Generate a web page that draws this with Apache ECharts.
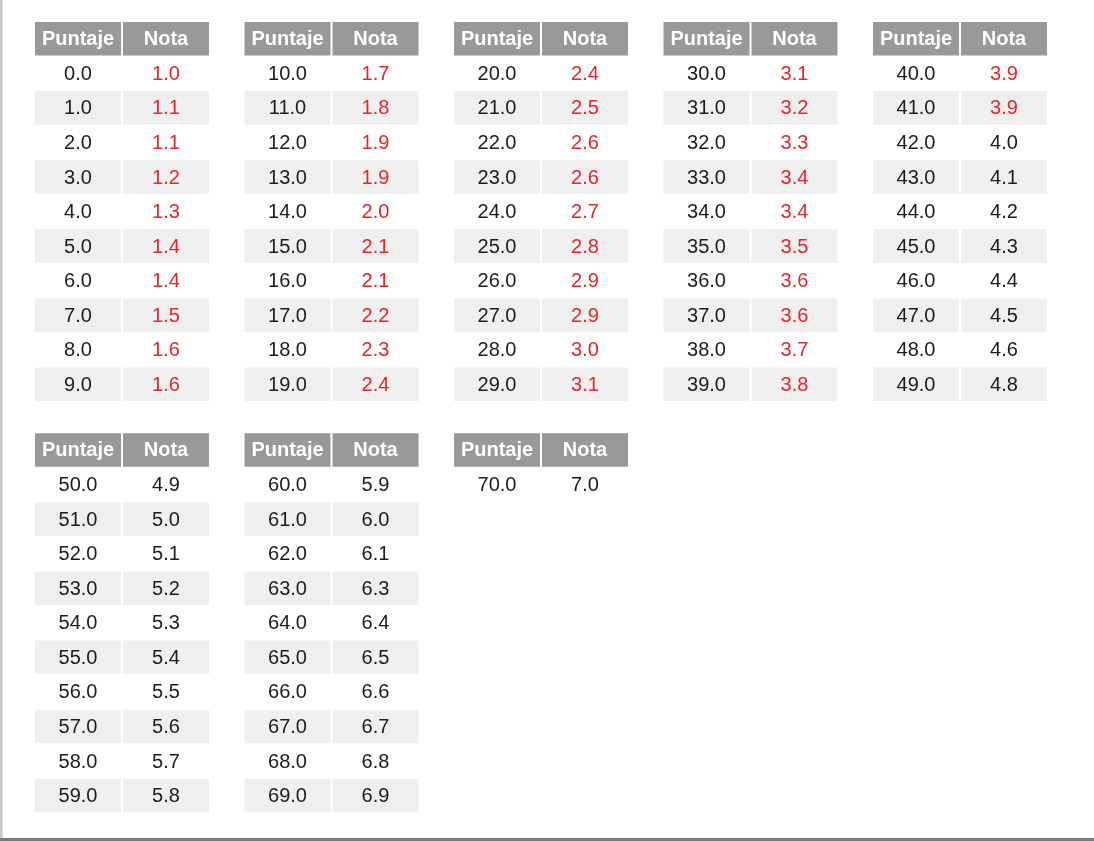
<!DOCTYPE html>
<html>
<head>
<meta charset="utf-8">
<script src="https://cdn.jsdelivr.net/npm/echarts@6/dist/echarts.min.js"></script>
<style>
html,body{margin:0;padding:0;background:#fff;}
#chart{width:1094px;height:841px;}
</style>
</head>
<body>
<div id="chart"></div>
<script>
const headers = ['Puntaje', 'Nota'];
const puntaje = [0,1,2,3,4,5,6,7,8,9,10,11,12,13,14,15,16,17,18,19,20,21,22,23,24,25,26,27,28,29,30,31,32,33,34,35,36,37,38,39,40,41,42,43,44,45,46,47,48,49,50,51,52,53,54,55,56,57,58,59,60,61,62,63,64,65,66,67,68,69,70];
const nota = [
  1.0,1.1,1.1,1.2,1.3,1.4,1.4,1.5,1.6,1.6,
  1.7,1.8,1.9,1.9,2.0,2.1,2.1,2.2,2.3,2.4,
  2.4,2.5,2.6,2.6,2.7,2.8,2.9,2.9,3.0,3.1,
  3.1,3.2,3.3,3.4,3.4,3.5,3.6,3.6,3.7,3.8,
  3.9,3.9,4.0,4.1,4.2,4.3,4.4,4.5,4.6,4.8,
  4.9,5.0,5.1,5.2,5.3,5.4,5.5,5.6,5.7,5.8,
  5.9,6.0,6.1,6.3,6.4,6.5,6.6,6.7,6.8,6.9,
  7.0
];
const failThreshold = 4.0;
const rowsPerTable = 10;
const rowLabels = ['h','0','1','2','3','4','5','6','7','8','9'];

const FONT = "'Liberation Sans', Arial, Helvetica, sans-serif";
const tableCount = Math.ceil(puntaje.length / rowsPerTable);

const grids = [], xAxes = [], yAxes = [], series = [];
const rowH = 34.56;
for (let t = 0; t < tableCount; t++) {
  const col = t % 5, blk = Math.floor(t / 5);
  grids.push({
    left: 34 + 209.5 * col,
    top: blk === 0 ? 21.5 : 432.7,
    width: 176,
    height: rowH * 11
  });
  xAxes.push({type: 'category', data: headers, gridIndex: t, show: false});
  yAxes.push({type: 'category', data: rowLabels, gridIndex: t, inverse: true, show: false});
  const start = t * rowsPerTable;
  const end = Math.min(start + rowsPerTable, puntaje.length);
  const data = [[0, 0, -1], [1, 0, -1]];
  for (let i = start; i < end; i++) {
    data.push([0, i - start + 1, i]);
    data.push([1, i - start + 1, i]);
  }
  series.push({
    type: 'custom',
    xAxisIndex: t,
    yAxisIndex: t,
    data: data,
    silent: true,
    renderItem: function (params, api) {
      const cx = api.value(0), cy = api.value(1), idx = api.value(2);
      const c = api.coord([cx, cy]);
      const s = api.size([1, 1]);
      const children = [];
      let fill = null, text, color = '#1c1c1c', weight = 'normal';
      if (cy === 0) {
        fill = '#999999';
        text = headers[cx];
        color = '#ffffff';
        weight = 'bold';
      } else {
        if ((cy - 1) % 2 === 1) fill = '#efefef';
        if (cx === 0) {
          text = puntaje[idx].toFixed(1);
        } else {
          text = nota[idx].toFixed(1);
          if (nota[idx] < failThreshold) color = '#e4262b';
        }
      }
      if (fill) {
        children.push({
          type: 'rect',
          shape: {x: c[0] - s[0] / 2 + 1, y: c[1] - s[1] / 2 + 0.5, width: s[0] - 2, height: s[1] - 1},
          style: {fill: fill}
        });
      }
      children.push({
        type: 'text',
        style: {
          text: text, x: c[0], y: c[1] + 1,
          align: 'center', verticalAlign: 'middle',
          fill: color, fontSize: 20, fontWeight: weight, fontFamily: FONT
        }
      });
      return {type: 'group', children: children};
    }
  });
}

const chart = echarts.init(document.getElementById('chart'), null, {renderer: 'canvas'});
chart.setOption({
  animation: false,
  backgroundColor: '#ffffff',
  grid: grids,
  xAxis: xAxes,
  yAxis: yAxes,
  series: series,
  graphic: [
    {type: 'rect', shape: {x: 0, y: 0, width: 2.5, height: 841}, style: {fill: '#c8c8c8'}},
    {type: 'rect', shape: {x: 0, y: 838, width: 1094, height: 3}, style: {fill: '#7a7a7a'}}
  ]
});
</script>
</body>
</html>
